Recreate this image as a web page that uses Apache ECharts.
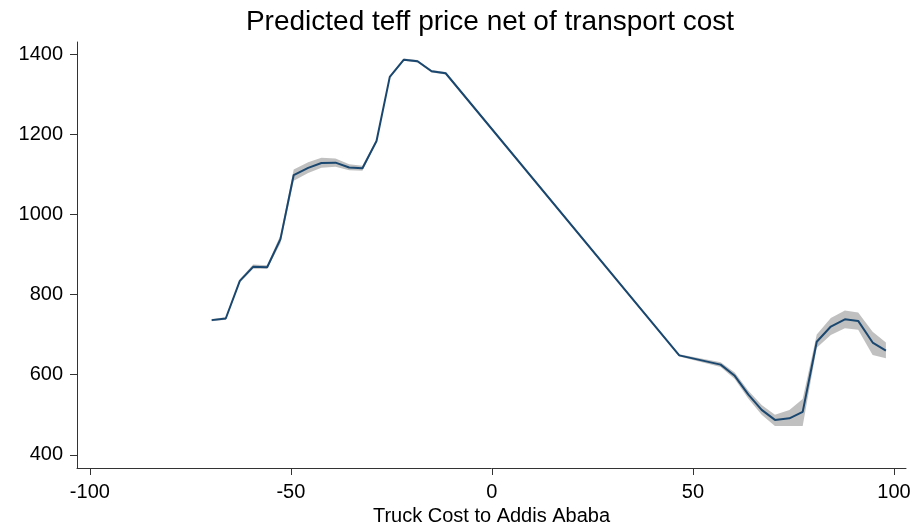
<!DOCTYPE html>
<html>
<head>
<meta charset="utf-8">
<script src="https://cdn.jsdelivr.net/npm/echarts@6/dist/echarts.min.js"></script>
<style>
  html, body { margin: 0; padding: 0; background: #fff; }
  #chart { width: 913px; height: 524px; }
</style>
</head>
<body>
<div id="chart"></div>
<script>
// Truck cost to Addis Ababa (x) and predicted teff price net of transport cost (y)
const truckCost = [-69.7, -66.2, -62.7, -59.4, -55.9, -52.6, -49.3, -45.7, -42.4, -38.9,
                   -35.5, -32.2, -28.7, -25.4, -21.9, -18.5, -15.0, -11.5,
                   46.6, 56.9, 60.4, 63.8, 67.1, 70.4, 74.0, 77.3, 80.8, 84.3, 87.8, 91.1, 94.7, 98.0];
const predicted = [736, 740, 834, 869, 868, 938, 1098, 1116, 1128, 1129,
                   1117, 1115, 1183, 1343, 1386, 1382, 1357, 1352,
                   648, 625, 597, 550, 512, 487, 491, 507, 682, 720, 738, 734, 680, 660];
// Confidence interval bounds
const ciLower = [733, 737, 830, 864, 864, 928, 1084, 1103, 1116, 1119,
                 1110, 1109, 1179, 1340, 1383, 1379, 1354, 1349,
                 645, 619, 589, 540, 500, 472, 472, 472, 667, 699, 716, 712, 649, 641];
const ciUpper = [739, 743, 838, 875, 873, 948, 1112, 1130, 1141, 1139,
                 1125, 1121, 1187, 1346, 1389, 1385, 1360, 1355,
                 651, 631, 605, 560, 524, 500, 512, 539, 700, 741, 760, 755, 707, 680];

const xTicks = [-100, -50, 0, 50, 100];
const yTicks = [400, 600, 800, 1000, 1200, 1400];

const FONT = '"Liberation Sans", Arial, sans-serif';
const AXIS_COLOR = '#333333';

const chart = echarts.init(document.getElementById('chart'), null, { renderer: 'canvas' });

const bandData = truckCost.map((x, i) => [x, ciLower[i], ciUpper[i]]);
const lineData = truckCost.map((x, i) => [x, predicted[i]]);

chart.setOption({
  animation: false,
  backgroundColor: '#ffffff',
  title: {
    text: 'Predicted teff price net of transport cost',
    left: 490,
    top: 8,
    padding: 0,
    textAlign: 'center',
    textStyle: { fontFamily: FONT, fontSize: 28, fontWeight: 'normal', color: '#000' }
  },
  grid: { left: 77, right: 7, top: 42, bottom: 56, containLabel: false, outerBoundsMode: 'none' },
  xAxis: {
    type: 'value',
    min: -103.2,
    max: 103.0,
    name: 'Truck Cost to Addis Ababa',
    nameLocation: 'middle',
    nameGap: 28,
    nameTextStyle: { fontFamily: FONT, fontSize: 20, color: '#000' },
    axisLine: { show: true, onZero: false, lineStyle: { color: AXIS_COLOR, width: 1 } },
    axisTick: { show: true, length: 7, customValues: xTicks, lineStyle: { color: AXIS_COLOR } },
    axisLabel: {
      customValues: xTicks, margin: 14, fontFamily: FONT, fontSize: 20, color: '#000',
      formatter: v => String(v)
    },
    splitLine: { show: false }
  },
  yAxis: {
    type: 'value',
    min: 367,
    max: 1430,
    axisLine: { show: true, onZero: false, lineStyle: { color: AXIS_COLOR, width: 1 } },
    axisTick: { show: true, length: 7, customValues: yTicks, lineStyle: { color: AXIS_COLOR } },
    axisLabel: {
      customValues: yTicks, margin: 14, fontFamily: FONT, fontSize: 20, color: '#000',
      formatter: v => String(v)
    },
    splitLine: { show: false }
  },
  series: [
    {
      // shaded confidence band, drawn as one polygon through the axis scales
      type: 'custom',
      silent: true,
      z: 1,
      data: bandData,
      encode: { x: 0, y: [1, 2] },
      renderItem: function (params, api) {
        if (params.dataIndex !== 0) return null;
        const pts = [];
        for (let i = 0; i < truckCost.length; i++) pts.push(api.coord([truckCost[i], ciUpper[i]]));
        for (let i = truckCost.length - 1; i >= 0; i--) pts.push(api.coord([truckCost[i], ciLower[i]]));
        return {
          type: 'polygon',
          shape: { points: pts },
          style: { fill: '#c0c0c0', stroke: null }
        };
      }
    },
    {
      type: 'line',
      z: 2,
      data: lineData,
      showSymbol: false,
      symbol: 'none',
      lineStyle: { color: '#1a476f', width: 2 }
    }
  ]
});
</script>
</body>
</html>
